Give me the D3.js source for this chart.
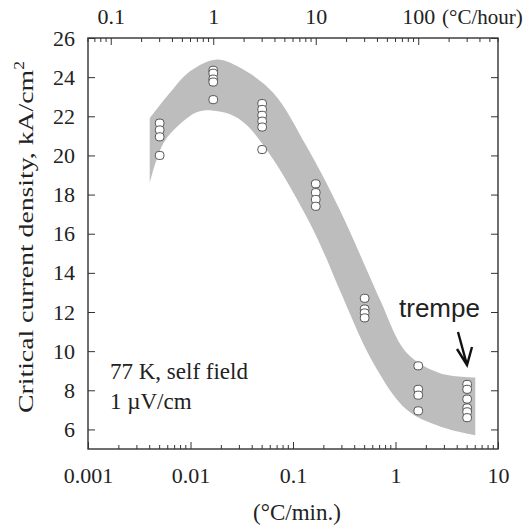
<!DOCTYPE html>
<html><head><meta charset="utf-8">
<script src="https://cdn.jsdelivr.net/npm/d3@7"></script>
<style>
html,body{margin:0;padding:0;background:#fff;}
svg text{font-family:"Liberation Serif","Times New Roman",serif;fill:#222;}
</style></head>
<body><svg id="c" width="523" height="527"></svg>
<script>
// ---- data ----
const xTicks = [0.001, 0.01, 0.1, 1, 10];
const xTickLabels = ["0.001", "0.01", "0.1", "1", "10"];
const topTicks = [0.1, 1, 10, 100];
const topTickLabels = ["0.1", "1", "10", "100"];
const yTicks = [6, 8, 10, 12, 14, 16, 18, 20, 22, 24, 26];
const yTickLabels = ["6", "8", "10", "12", "14", "16", "18", "20", "22", "24", "26"];

// cooling rates (°C/min) and measured Jc (kA/cm²)
const rates = [0.005, 0.01667, 0.05, 0.1667, 0.5, 1.667, 5];
const jc005 = [21.65, 21.3, 20.95, 20.0];
const jc0167 = [24.35, 24.2, 23.9, 23.75, 22.85];
const jc05 = [22.65, 22.35, 22.05, 21.75, 21.45, 20.3];
const jc167 = [18.55, 18.1, 17.75, 17.4];
const jc5 = [12.7, 12.15, 11.95, 11.7];
const jc1667 = [9.25, 8.05, 7.75, 6.95];
const jc50 = [8.3, 8.05, 7.55, 7.1, 6.9, 6.6];
const jcSeries = [jc005, jc0167, jc05, jc167, jc5, jc1667, jc50];

// scatter band boundaries
const bandUpperX = [0.004, 0.0063, 0.0099, 0.018, 0.030, 0.064, 0.136, 0.287, 0.54, 0.71, 1.29, 2.72, 6.0];
const bandUpperY = [21.9, 23.2, 24.3, 24.9, 24.5, 23.2, 20.45, 17.2, 14.0, 12.6, 9.9, 8.87, 8.65];
const bandLowerX = [0.004, 0.0054, 0.0079, 0.0115, 0.0161, 0.0243, 0.0353, 0.064, 0.136, 0.205, 0.287, 0.607, 1.29, 2.72, 6.0];
const bandLowerY = [18.6, 20.6, 21.6, 22.2, 22.3, 22.1, 21.55, 19.8, 16.85, 14.9, 13.1, 9.4, 7.0, 6.15, 5.7];

// ---- layout ----
const L = 88, T = 38, W = 410, H = 411;
const svg = d3.select("#c");
const x = d3.scaleLog().domain([0.001, 10]).range([L, L + W]);
const xTop = d3.scaleLog().domain([0.06, 600]).range([L, L + W]);
const y = d3.scaleLinear().domain([5, 26]).range([T + H, T]);

// band
const line = d3.line().x(d => x(d[0])).y(d => y(d[1])).curve(d3.curveCatmullRom.alpha(0.5));
const up = bandUpperX.map((v, i) => [v, bandUpperY[i]]);
const lo = bandLowerX.map((v, i) => [v, bandLowerY[i]]).reverse();
const p1 = line(up), p2 = line(lo);
svg.append("path").attr("d", p1 + "L" + p2.slice(1) + "Z").attr("fill", "#bdbdbd").attr("stroke", "none");

// points
const pts = [];
rates.forEach((r, i) => jcSeries[i].forEach(v => pts.push([r, v])));
svg.append("g").selectAll("rect").data(pts).join("rect")
  .attr("x", d => x(d[0]) - 4.3).attr("y", d => y(d[1]) - 4)
  .attr("width", 8.6).attr("height", 8).attr("rx", 3.2).attr("ry", 3.2)
  .attr("fill", "#fff").attr("stroke", "#555").attr("stroke-width", 1);

// axes
function minorTicks(lo, hi) {
  const out = [];
  for (let e = -4; e <= 3; e++) for (let m = 2; m <= 9; m++) {
    const v = m * Math.pow(10, e);
    if (v >= lo * 0.9999 && v <= hi * 1.0001) out.push(v);
  }
  return out;
}
const axStroke = "#333";
// bottom
const gB = svg.append("g").attr("transform", `translate(0,${T + H})`);
gB.call(d3.axisBottom(x).tickValues(xTicks).tickFormat((d, i) => xTickLabels[i]).tickSize(-7).tickPadding(18));
gB.append("g").selectAll("line").data(minorTicks(0.001, 10)).join("line")
  .attr("x1", d => x(d)).attr("x2", d => x(d)).attr("y1", 0).attr("y2", -4).attr("stroke", axStroke);
// top
const gT = svg.append("g").attr("transform", `translate(0,${T})`);
gT.call(d3.axisTop(xTop).tickValues(topTicks).tickFormat((d, i) => topTickLabels[i]).tickSize(-7).tickPadding(14));
gT.append("g").selectAll("line").data(minorTicks(0.06, 600)).join("line")
  .attr("x1", d => xTop(d)).attr("x2", d => xTop(d)).attr("y1", 0).attr("y2", 4).attr("stroke", axStroke);
// left
const gL = svg.append("g").attr("transform", `translate(${L},0)`);
gL.call(d3.axisLeft(y).tickValues(yTicks).tickFormat((d, i) => yTickLabels[i]).tickSize(-7).tickPadding(13));
// right
const gR = svg.append("g").attr("transform", `translate(${L + W},0)`);
gR.call(d3.axisRight(y).tickValues(yTicks).tickFormat("").tickSize(-7));

[gB, gT, gL, gR].forEach(g => {
  g.select(".domain").remove();
  g.selectAll(".tick line").attr("stroke", axStroke);
  g.selectAll(".tick text").attr("font-size", 22).attr("font-family", "Liberation Serif").attr("fill", "#222");
});
svg.append("rect").attr("x", L).attr("y", T).attr("width", W).attr("height", H)
  .attr("fill", "none").attr("stroke", axStroke).attr("stroke-width", 1.4);

// labels
svg.append("text").attr("x", 442).attr("y", 24).attr("font-size", 21).text("(°C/hour)");
svg.append("text").attr("x", 297).attr("y", 520).attr("text-anchor", "middle").attr("font-size", 23).text("(°C/min.)");
const yl = svg.append("text").attr("transform", "translate(33,413) rotate(-90)")
  .attr("font-size", 22).attr("textLength", 352).attr("lengthAdjust", "spacingAndGlyphs");
yl.append("tspan").text("Critical current density, kA/cm");
yl.append("tspan").attr("dy", -9).attr("font-size", 14).text("2");
svg.append("text").attr("x", 110).attr("y", 379).attr("font-size", 23).text("77 K, self field");
svg.append("text").attr("x", 110).attr("y", 409).attr("font-size", 23).text("1 µV/cm");
svg.append("text").attr("x", 399).attr("y", 317).attr("font-size", 26)
  .style("font-family", "'Liberation Sans', Arial, sans-serif").attr("fill", "#111").text("trempe");
// arrow
svg.append("path").attr("d", "M458,332 L467,365 M457,349 L467,365 L472,347")
  .attr("fill", "none").attr("stroke", "#111").attr("stroke-width", 2.4).attr("stroke-linejoin", "miter");
</script></body></html>
